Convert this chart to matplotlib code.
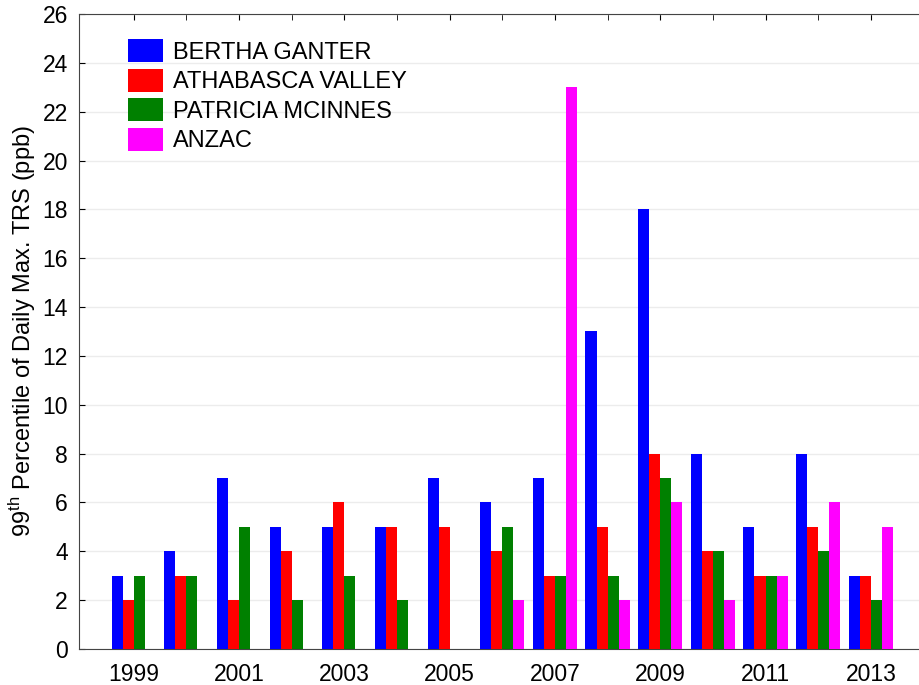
import matplotlib.pyplot as plt
import numpy as np

plt.rcParams['font.family'] = ['Liberation Sans', 'DejaVu Sans']
plt.rcParams['mathtext.fontset'] = 'custom'
plt.rcParams['mathtext.rm'] = 'Liberation Sans'

years = np.arange(1999, 2014)
bertha = [3, 4, 7, 5, 5, 5, 7, 6, 7, 13, 18, 8, 5, 8, 3]
athabasca = [2, 3, 2, 4, 6, 5, 5, 4, 3, 5, 8, 4, 3, 5, 3]
patricia = [3, 3, 5, 2, 3, 2, np.nan, 5, 3, 3, 7, 4, 3, 4, 2]
anzac = [np.nan, np.nan, np.nan, np.nan, np.nan, np.nan, np.nan, 2, 23, 2, 6, 2, 3, 6, 5]

names = ["BERTHA GANTER", "ATHABASCA VALLEY", "PATRICIA MCINNES", "ANZAC"]
colors = ["#0000ff", "#ff0000", "#008000", "#ff00ff"]

def main():
	fig = plt.figure(figsize=(9.19, 6.85), dpi=100)
	ax = fig.add_axes([0.086, 0.0526, 0.916, 0.927])

	w = 0.21
	series = [bertha, athabasca, patricia, anzac]
	for i, (vals, name, c) in enumerate(zip(series, names, colors)):
		ax.bar(years + (i - 1.5) * w, vals, w, color=c, label=name, zorder=3)

	ax.set_xlim(1997.96, 2013.95)
	ax.set_ylim(0, 26)
	ax.set_yticks(np.arange(0, 27, 2))
	ax.set_xticks(np.arange(1999, 2014, 2))
	ax.set_xticks(years, minor=True)
	ax.tick_params(axis='both', direction='in', labelsize=16.5, top=True, length=4)
	ax.tick_params(axis='y', pad=8)
	ax.tick_params(axis='x', which='minor', direction='in', top=True, bottom=False, length=4)
	ax.tick_params(axis='x', which='major', bottom=False, pad=10)
	ax.grid(axis='y', color='#ececec', linewidth=1, zorder=0)
	for s in ax.spines.values():
		s.set_color('#444444')
	ax.spines['right'].set_visible(False)

	ax.set_ylabel("99$^{\\mathrm{th}}$ Percentile of Daily Max. TRS (ppb)", fontsize=17, labelpad=3)

	ax.legend(loc='upper left', bbox_to_anchor=(0.058, 0.96), frameon=False, fontsize=17,
		handlelength=1.5, handleheight=1.1, labelspacing=0.22, handletextpad=0.4,
		borderpad=0, borderaxespad=0)

	plt.savefig("out.png")
	plt.close(fig)

if __name__ == "__main__":
	main()
